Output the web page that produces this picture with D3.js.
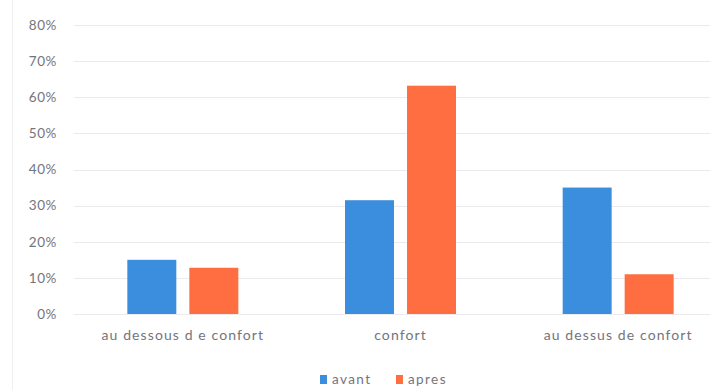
<!DOCTYPE html>
<html>
<head>
<meta charset="utf-8">
<script src="https://cdn.jsdelivr.net/npm/d3@7"></script>
<style>
  html, body { margin: 0; padding: 0; background: #fff; }
  svg { display: block; }
  text { font-family: Lato, "Open Sans", sans-serif; fill: #74747c; }
</style>
</head>
<body>
<svg id="chart" width="710" height="390"></svg>
<script>
// Comfort assessment before / after
const categories = ["au dessous d e confort", "confort", "au dessus de confort"];
const seriesNames = ["avant", "apres"];
const avant = [0.15, 0.315, 0.35];
const apres = [0.128, 0.632, 0.11];
const yTicks = [0, 0.1, 0.2, 0.3, 0.4, 0.5, 0.6, 0.7, 0.8];
const colors = ["#3b8ede", "#ff6e40"];

const svg = d3.select("#chart");
const W = 710, H = 390;
const textColor = "#74747c";

// faint frame edge on the left
svg.append("line")
  .attr("x1", 12.5).attr("x2", 12.5).attr("y1", 0).attr("y2", H)
  .attr("stroke", "#efefef").attr("stroke-width", 1);

const x0 = d3.scaleBand().domain(categories).range([74, 727]).paddingInner(0).paddingOuter(0);
const x1 = d3.scaleBand().domain(seriesNames).range([0, 111]).paddingInner(0.21);
const y = d3.scaleLinear().domain([0, 0.8]).range([314, 25]);

// gridlines
svg.append("g").selectAll("line").data(yTicks).join("line")
  .attr("x1", 74).attr("x2", W)
  .attr("y1", d => Math.round(y(d)) + 0.5).attr("y2", d => Math.round(y(d)) + 0.5)
  .attr("stroke", "#ebebef").attr("stroke-width", 1);

// y axis labels
const yAxis = d3.axisLeft(y).tickValues(yTicks).tickFormat(d3.format(".0%")).tickSize(0).tickPadding(0);
const gy = svg.append("g").attr("transform", "translate(57,0)").call(yAxis);
gy.select(".domain").remove();
gy.selectAll("text").attr("font-size", 13.5).attr("letter-spacing", 0.6)
  .style("font-family", "Lato, sans-serif").attr("fill", textColor);

// bars
const groups = svg.append("g").selectAll("g").data(categories).join("g")
  .attr("transform", d => `translate(${x0(d) + (x0.bandwidth() - 111) / 2},0)`);
groups.selectAll("rect")
  .data((d, i) => [{ s: "avant", v: avant[i] }, { s: "apres", v: apres[i] }])
  .join("rect")
  .attr("x", d => x1(d.s))
  .attr("width", x1.bandwidth())
  .attr("y", d => y(d.v))
  .attr("height", d => y(0) - y(d.v))
  .attr("fill", (d, i) => colors[i]);

// category axis labels
const xAxis = d3.axisBottom(x0).tickSize(0).tickPadding(0);
const gx = svg.append("g").attr("transform", "translate(0,330)").call(xAxis);
gx.select(".domain").remove();
gx.selectAll("text").attr("font-size", 14).attr("letter-spacing", 1.1)
  .style("font-family", "Lato, sans-serif").attr("fill", textColor);

// legend
const legendX = [320, 396];
const lg = svg.append("g").selectAll("g").data(seriesNames).join("g")
  .attr("transform", (d, i) => `translate(${legendX[i]},375)`);
lg.append("rect").attr("width", 7).attr("height", 9).attr("fill", (d, i) => colors[i]);
lg.append("text").attr("x", 12).attr("y", 9).attr("font-size", 13.5).attr("letter-spacing", 1.4)
  .attr("fill", textColor).text(d => d);
</script>
</body>
</html>
